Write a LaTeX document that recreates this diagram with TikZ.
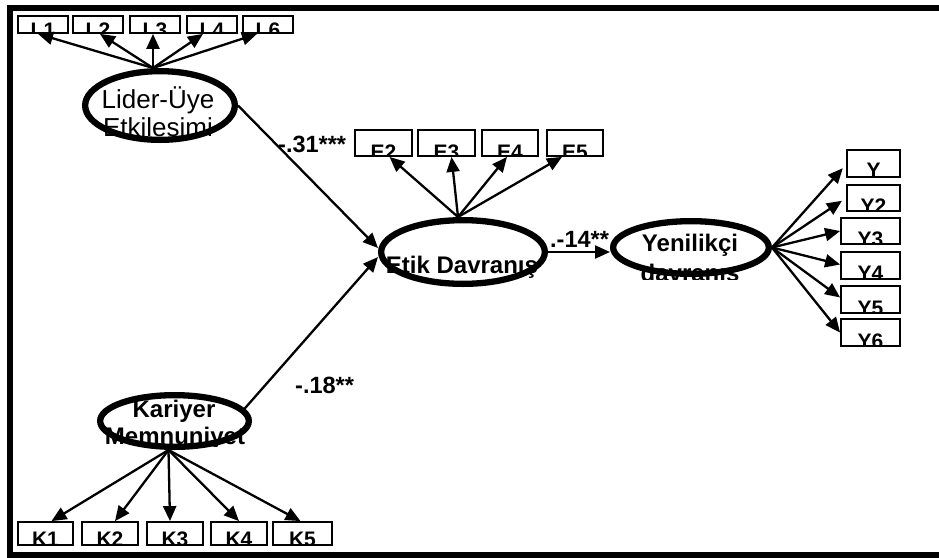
\documentclass[tikz,border=0pt]{standalone}
\usepackage{fontspec}
\setmainfont{Liberation Sans}
\usetikzlibrary{shapes.geometric,arrows.meta}

\tikzset{
  lat/.style={ellipse, draw, line width=6.3pt, inner sep=0pt},
  obs/.style={draw, line width=1.8pt, inner sep=0pt},
  lbl/.style={font=\bfseries\fontsize{21}{21}\selectfont, inner sep=0pt},
  lattxt/.style={font=\bfseries\fontsize{24}{27}\selectfont, inner sep=0pt},
  lattxtr/.style={font=\fontsize{26}{28}\selectfont, inner sep=0pt},
  coef/.style={font=\bfseries\fontsize{23.5}{23.5}\selectfont, inner sep=0pt},
  arr/.style={line width=2.3pt, -{Triangle[length=15pt,width=13pt]}},
  frame/.style={line width=6pt},
}

% name, cx, cy, w, h, label, drop of baseline below box bottom
\newcommand{\obsnode}[7]{%
  \node[obs, minimum width=#4pt, minimum height=#5pt] (#1) at (#2,#3) {};
  \begin{scope}
    \clip (#1.south west) rectangle (#1.north east);
    \node[lbl, anchor=base] (#1-t) at ([yshift=-#7pt]#1.south) {#6};
  \end{scope}}

\begin{document}
\begin{tikzpicture}[x=1pt,y=-1pt]
\fill[white] (0,0) rectangle (939,557);
\useasboundingbox (0,0) rectangle (939,557);
\draw[frame] (939,8) -- (10,8) -- (10,555) -- (939,555);

% latent variables
\node[lat, minimum width=149.7pt, minimum height=68.7pt] (lider) at (160,105.5) {};
\node[lat, minimum width=163.7pt, minimum height=63.7pt] (etik) at (463,252) {};
\node[lat, minimum width=155.7pt, minimum height=52.7pt] (yen) at (691,247.5) {};
\node[lat, minimum width=148.7pt, minimum height=51.7pt] (kar) at (174.5,421) {};

% latent texts
\node[lattxtr, anchor=base] (lider-t1) at (158,108) {Lider-Üye};
\begin{scope}
  \clip (60,60) rectangle (260,141);
  \node[lattxtr, anchor=base] (lider-t2) at (158,136) {Etkileşimi};
\end{scope}
\node[lattxt, anchor=base] (etik-t) at (462,273) {Etik Davranış};
\node[lattxt, anchor=base] (yen-t1) at (690,251) {Yenilikçi};
\begin{scope}
  \clip (600,200) rectangle (790,279);
  \node[lattxt, anchor=base] (yen-t2) at (690,281) {davranış};
\end{scope}
\node[lattxt, anchor=base] (kar-t1) at (174,417) {Kariyer};
\begin{scope}
  \clip (80,380) rectangle (270,446);
  \node[lattxt, anchor=base] (kar-t2) at (175,444) {Memnuniyet};
\end{scope}

% observed indicators
\obsnode{L1}{43}{24.5}{50}{17}{L1}{4}
\obsnode{L2}{98}{24.5}{50}{17}{L2}{4}
\obsnode{L3}{155}{24.5}{50}{17}{L3}{4}
\obsnode{L4}{212}{24.5}{50}{17}{L4}{4}
\obsnode{L6}{268}{24.5}{50}{17}{L6}{4}

\obsnode{E2}{383.5}{143}{57}{26}{E2}{3}
\obsnode{E3}{446.5}{143}{57}{26}{E3}{3}
\obsnode{E4}{510}{143}{56}{26}{E4}{3}
\obsnode{E5}{575}{143}{56}{26}{E5}{3}

\obsnode{Y1}{873.5}{163.5}{53}{27}{Y}{0}
\obsnode{Y2}{873.5}{198}{53}{26}{Y2}{2}
\obsnode{Y3}{870.5}{231}{59}{26}{Y3}{2}
\obsnode{Y4}{870.5}{265.5}{59}{27}{Y4}{1}
\obsnode{Y5}{870.5}{299.5}{59}{27}{Y5}{2}
\obsnode{Y6}{870.5}{332.5}{59}{27}{Y6}{2}

\obsnode{K1}{45.5}{533.5}{55}{23}{K1}{1}
\obsnode{K2}{110}{533.5}{56}{23}{K2}{1}
\obsnode{K3}{175}{533.5}{56}{23}{K3}{1}
\obsnode{K4}{239}{533.5}{56}{23}{K4}{1}
\obsnode{K5}{302.5}{533.5}{59}{23}{K5}{1}

% loadings
\coordinate (lo) at ([xshift=-7pt]lider.north);
\draw[arr] (lo) -- ([xshift=-5pt]L1.south);
\draw[arr] (lo) -- ([xshift=2pt]L2.south);
\draw[arr] (lo) -- ([xshift=-2pt]L3.south);
\draw[arr] (lo) -- ([xshift=-9pt]L4.south);
\draw[arr] (lo) -- ([xshift=-11pt]L6.south);

\coordinate (eo) at ([xshift=-5pt]etik.north);
\draw[arr] (eo) -- ([xshift=6pt]E2.south);
\draw[arr] (eo) -- ([xshift=5pt]E3.south);
\draw[arr] (eo) -- ([xshift=-3pt]E4.south);
\draw[arr] (eo) -- ([xshift=-13pt]E5.south);

\coordinate (ko) at ([xshift=-6pt]kar.south);
\draw[arr] (ko) -- ([xshift=6pt]K1.north);
\draw[arr] (ko) -- ([xshift=5pt]K2.north);
\draw[arr] (ko) -- ([xshift=-5pt]K3.north);
\draw[arr] (ko) -- (K4.north);
\draw[arr] (ko) -- ([xshift=-2pt]K5.north);

\draw[arr, shorten >=5pt] (yen.east) -- ([yshift=-1pt]Y1.west);
\draw[arr, shorten >=5pt] (yen.east) -- (Y2.west);
\draw[arr] (yen.east) -- (Y3.west);
\draw[arr] (yen.east) -- ([yshift=1pt]Y4.west);
\draw[arr] (yen.east) -- ([yshift=2pt]Y5.west);
\draw[arr] (yen.east) -- (Y6.west);

% structural paths
\draw[arr] (lider.east) -- ([yshift=4pt]etik.west);
\draw[arr] (kar.10) -- ([yshift=-5pt]etik.west);
\draw[arr] (etik.east) -- (etik.east -| yen.west);

% coefficients
\node[coef, anchor=base west] (c1) at (278,152) {-.31***};
\node[coef, anchor=base west] (c2) at (295,393) {-.18**};
\node[coef, anchor=base west] (c3) at (550,247) {.-14**};
\end{tikzpicture}
\end{document}
